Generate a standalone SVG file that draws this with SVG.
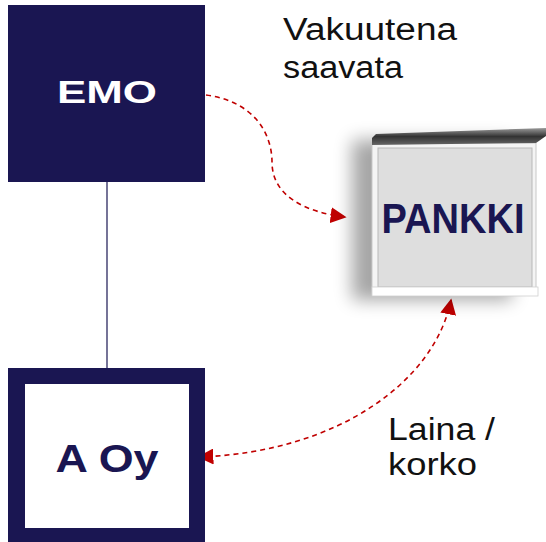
<svg xmlns="http://www.w3.org/2000/svg" width="546" height="542" viewBox="0 0 546 542">
  <style>
    .navy { fill: #1a1652; }
    .lbl { font-family: "Liberation Sans", Arial, sans-serif; fill: #111111; font-size: 31px; }
    .bold { font-family: "Liberation Sans", Arial, sans-serif; font-weight: bold; }
    .flow { fill: none; stroke: #c00000; stroke-width: 1.6; stroke-dasharray: 5 4; }
  </style>
  <defs>
    <marker id="arrow" viewBox="0 0 10 10" refX="9" refY="5" markerWidth="16" markerHeight="16" markerUnits="userSpaceOnUse" orient="auto-start-reverse">
      <path d="M0,0 L10,5 L0,10 Z" fill="#c00000"/>
    </marker>
    <filter id="soft" x="-40%" y="-40%" width="180%" height="180%">
      <feGaussianBlur stdDeviation="9"/>
    </filter>
    <linearGradient id="topbar" x1="0" y1="0" x2="0" y2="1">
      <stop offset="0" stop-color="#9a9a9a"/>
      <stop offset="0.5" stop-color="#333333"/>
      <stop offset="1" stop-color="#666666"/>
    </linearGradient>
  </defs>

  <rect width="546" height="542" fill="#ffffff"/>

  <!-- connectors -->
  <g id="connectors">
    <line x1="107" y1="182" x2="107" y2="368" stroke="#1a1652" stroke-width="1.2"/>
    <path class="flow" d="M197,94 C255,98 272,135 272,162 C272,196 305,212 345,217" marker-end="url(#arrow)"/>
    <path class="flow" d="M451,300 C435,380 340,452 199,457" marker-start="url(#arrow)" marker-end="url(#arrow)"/>
  </g>

  <!-- parent company -->
  <g id="emo">
    <rect class="navy" x="8" y="5" width="197" height="177"/>
    <text class="bold" x="107" y="103" font-size="31" fill="#ffffff" text-anchor="middle" textLength="100" lengthAdjust="spacingAndGlyphs">EMO</text>
  </g>

  <!-- subsidiary -->
  <g id="aoy">
    <rect class="navy" x="8" y="368" width="197" height="180"/>
    <rect x="25" y="384" width="164" height="144" fill="#ffffff"/>
    <text class="bold" x="107" y="472" font-size="39" fill="#1a1652" text-anchor="middle" textLength="103" lengthAdjust="spacingAndGlyphs">A Oy</text>
  </g>

  <!-- bank sign -->
  <g id="pankki">
    <rect x="352" y="140" width="160" height="160" fill="#000000" opacity="0.35" filter="url(#soft)"/>
    <rect x="372" y="143" width="164" height="152" fill="#f4f4f4" stroke="#c8c8c8" stroke-width="1"/>
    <rect x="378" y="148" width="154" height="139" fill="#dedede" stroke="#b8b8b8" stroke-width="1"/>
    <polygon points="372,138 376,134 546,128 546,136 536,143 372,145" fill="url(#topbar)"/>
    <rect x="372" y="287" width="166" height="9" fill="#ffffff" stroke="#d0d0d0" stroke-width="0.8"/>
    <text class="bold" x="453" y="233" font-size="42" fill="#1a1652" text-anchor="middle" textLength="143" lengthAdjust="spacingAndGlyphs">PANKKI</text>
  </g>

  <!-- labels -->
  <g id="labels">
    <text class="lbl" x="283" y="40" textLength="174" lengthAdjust="spacingAndGlyphs">Vakuutena</text>
    <text class="lbl" x="283" y="78" textLength="120" lengthAdjust="spacingAndGlyphs">saavata</text>
    <text class="lbl" x="388" y="440" textLength="107" lengthAdjust="spacingAndGlyphs">Laina /</text>
    <text class="lbl" x="388" y="475" textLength="89" lengthAdjust="spacingAndGlyphs">korko</text>
  </g>
</svg>
